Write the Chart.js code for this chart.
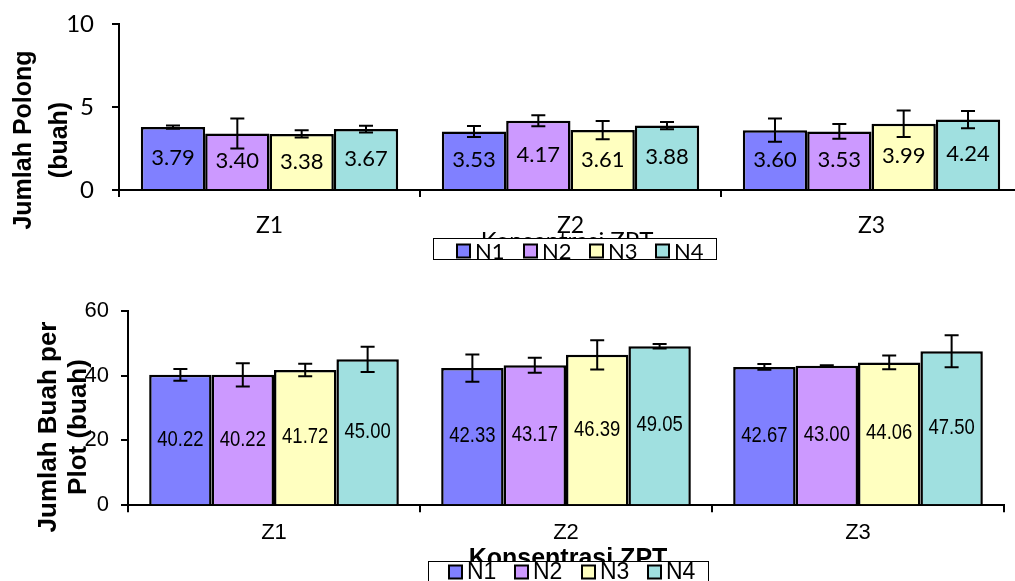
<!DOCTYPE html>
<html>
<head>
<meta charset="utf-8">
<script src="https://cdn.jsdelivr.net/npm/chart.js@4.4.1/dist/chart.umd.min.js"></script>
<style>
  html, body { margin: 0; padding: 0; background: #fff; overflow: hidden; }
  #wrap { position: relative; width: 1015px; height: 581px; overflow: hidden; }
  #top { position: absolute; left: 0; top: 0; }
  #bottom { position: absolute; left: 0; top: 280px; }
</style>
</head>
<body>
<div id="wrap">
  <canvas id="top" width="1023" height="280"></canvas>
  <canvas id="bottom" width="1015" height="301"></canvas>
</div>
<script>
const categories = ['Z1', 'Z2', 'Z3'];
const seriesNames = ['N1', 'N2', 'N3', 'N4'];
const colors = ['#8080FF', '#CC99FF', '#FFFFC0', '#A0E0E0'];

// jumlah polong (buah)
const polongN1 = [3.79, 3.53, 3.60];
const polongN2 = [3.40, 4.17, 3.53];
const polongN3 = [3.38, 3.61, 3.99];
const polongN4 = [3.67, 3.88, 4.24];
const polongErrN1 = [0.10, 0.33, 0.70];
const polongErrN2 = [0.90, 0.33, 0.45];
const polongErrN3 = [0.22, 0.55, 0.80];
const polongErrN4 = [0.20, 0.22, 0.52];

// jumlah buah per plot (buah)
const buahN1 = [40.22, 42.33, 42.67];
const buahN2 = [40.22, 43.17, 43.00];
const buahN3 = [41.72, 46.39, 44.06];
const buahN4 = [45.00, 49.05, 47.50];
const buahErrN1 = [1.8, 4.2, 0.9];
const buahErrN2 = [3.6, 2.3, 0.2];
const buahErrN3 = [1.95, 4.5, 2.1];
const buahErrN4 = [3.9, 0.7, 4.9];

const polongTicks = [0, 5, 10];
const buahTicks = [0, 20, 40, 60];

// error bars, value labels, axis titles and the legend box
const extras = {
  id: 'extras',
  afterDatasetsDraw(chart, args, opts) {
    const ctx = chart.ctx, yScale = chart.scales.y;
    ctx.save();
    chart.data.datasets.forEach((ds, i) => {
      chart.getDatasetMeta(i).data.forEach((bar, j) => {
        const v = ds.data[j], e = ds.errors[j];
        ctx.fillStyle = '#000';
        ctx.font = opts.labelFont;
        ctx.textAlign = 'center';
        ctx.textBaseline = 'middle';
        ctx.save();
        ctx.translate(bar.x, (bar.y + bar.base) / 2);
        ctx.scale(opts.labelScaleX, 1);
        ctx.fillText(v.toFixed(2), 0, 0);
        ctx.restore();

        const t = yScale.getPixelForValue(v + e), b = yScale.getPixelForValue(v - e);
        ctx.strokeStyle = '#000';
        ctx.lineWidth = 2;
        ctx.beginPath();
        ctx.moveTo(bar.x, t); ctx.lineTo(bar.x, b);
        ctx.moveTo(bar.x - 7, t); ctx.lineTo(bar.x + 7, t);
        ctx.moveTo(bar.x - 7, b); ctx.lineTo(bar.x + 7, b);
        ctx.stroke();
      });
    });
    ctx.restore();
  },
  afterDraw(chart, args, opts) {
    const ctx = chart.ctx;
    ctx.save();
    ctx.fillStyle = '#000';

    // y title, rotated
    const yt = opts.yTitle;
    ctx.save();
    ctx.translate(0, yt.cy);
    ctx.rotate(-Math.PI / 2);
    ctx.font = yt.font;
    ctx.textAlign = 'center';
    ctx.textBaseline = 'middle';
    yt.lines.forEach((line, k) => ctx.fillText(line, 0, yt.xs[k]));
    ctx.restore();

    // x title
    const xt = opts.xTitle;
    ctx.font = xt.font;
    ctx.textAlign = 'center';
    ctx.textBaseline = 'alphabetic';
    ctx.fillText(xt.text, xt.x, xt.y);

    // legend box drawn over the title
    const lg = opts.legend;
    ctx.fillStyle = '#fff';
    ctx.fillRect(lg.x, lg.y, lg.w, lg.h);
    ctx.strokeStyle = '#000';
    ctx.lineWidth = 1;
    ctx.strokeRect(lg.x + 0.5, lg.y + 0.5, lg.w, lg.h);
    ctx.font = lg.font;
    ctx.textAlign = 'left';
    ctx.textBaseline = 'middle';
    chart.data.datasets.forEach((ds, i) => {
      const x = lg.itemX[i];
      ctx.fillStyle = ds.backgroundColor;
      ctx.fillRect(x, lg.cy - lg.box / 2, lg.box, lg.box);
      ctx.lineWidth = 2;
      ctx.strokeRect(x, lg.cy - lg.box / 2, lg.box, lg.box);
      ctx.fillStyle = '#000';
      ctx.fillText(ds.label, x + lg.box + lg.gap, lg.cy + 1);
    });
    ctx.restore();
  }
};

function buildDatasets(values, errors) {
  return seriesNames.map((name, i) => ({
    label: name,
    data: values[i],
    errors: errors[i],
    backgroundColor: colors[i],
    borderColor: '#000',
    borderWidth: 2.5,
    barPercentage: 1,
    categoryPercentage: 0.855
  }));
}

function axisOpts(extra) {
  return Object.assign({
    grid: { drawOnChartArea: false, drawTicks: true, tickLength: 7, color: '#000', lineWidth: 2 },
    border: { display: true, color: '#000', width: 2 }
  }, extra);
}

// fixed y axis width; drop the label overflow padding so layout.padding sets the top
function fixY(width) {
  return s => { s.width = width; s.paddingTop = 0; s.paddingBottom = 0; };
}

new Chart(document.getElementById('top'), {
  type: 'bar',
  data: {
    labels: categories,
    datasets: buildDatasets([polongN1, polongN2, polongN3, polongN4],
                            [polongErrN1, polongErrN2, polongErrN3, polongErrN4])
  },
  options: {
    responsive: false,
    animation: false,
    layout: { padding: { top: 24, right: 1, left: 0, bottom: 0 } },
    plugins: {
      legend: { display: false },
      tooltip: { enabled: false },
      extras: {
        labelFont: '22px Lato',
        labelScaleX: 1,
        yTitle: { lines: ['Jumlah Polong', '(buah)'], xs: [24, 60], cy: 140, font: 'bold 25px "Liberation Sans"' },
        xTitle: { text: 'Konsentrasi ZPT', x: 567, y: 249, font: '24px Lato' },
        legend: { x: 433, y: 238, w: 283, h: 21, itemX: [457, 524, 590, 656], cy: 251, box: 13, gap: 5, font: '22px Lato' }
      }
    },
    scales: {
      x: axisOpts({
        ticks: { color: '#000', font: { family: 'Lato', size: 23 }, padding: 15 },
        afterFit: s => { s.height = 90; }
      }),
      y: axisOpts({
        min: 0, max: 10,
        afterBuildTicks: s => { s.ticks = polongTicks.map(v => ({ value: v })); },
        ticks: { color: '#000', font: { family: 'Lato', size: 24 }, padding: 18 },
        afterFit: fixY(119)
      })
    }
  },
  plugins: [extras]
});

new Chart(document.getElementById('bottom'), {
  type: 'bar',
  data: {
    labels: categories,
    datasets: buildDatasets([buahN1, buahN2, buahN3, buahN4],
                            [buahErrN1, buahErrN2, buahErrN3, buahErrN4])
  },
  options: {
    responsive: false,
    animation: false,
    layout: { padding: { top: 30.7, right: 11, left: 0, bottom: 0 } },
    plugins: {
      legend: { display: false },
      tooltip: { enabled: false },
      extras: {
        labelFont: '22px "Liberation Sans"',
        labelScaleX: 0.84,
        yTitle: { lines: ['Jumlah Buah per', 'Plot (buah)'], xs: [49, 79], cy: 147, font: 'bold 26px "Liberation Sans"' },
        xTitle: { text: 'Konsentrasi ZPT', x: 568, y: 286, font: 'bold 25px "Liberation Sans"' },
        legend: { x: 428, y: 281, w: 280, h: 30, itemX: [449, 515, 582, 648], cy: 292, box: 13, gap: 5, font: '23px "Liberation Sans"' }
      }
    },
    scales: {
      x: axisOpts({
        ticks: { color: '#000', font: { family: 'Liberation Sans', size: 22 }, padding: 7 },
        afterFit: s => { s.height = 75.7; }
      }),
      y: axisOpts({
        min: 0, max: 60,
        afterBuildTicks: s => { s.ticks = buahTicks.map(v => ({ value: v })); },
        ticks: { color: '#000', font: { family: 'Liberation Sans', size: 22 }, padding: 12 },
        afterFit: fixY(128)
      })
    }
  },
  plugins: [extras]
});
</script>
</body>
</html>
